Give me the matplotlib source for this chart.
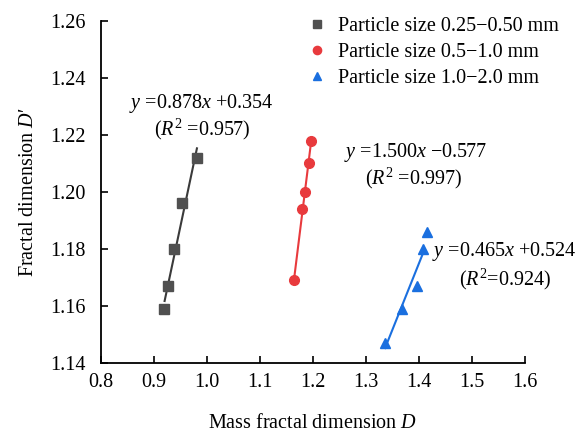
import matplotlib
matplotlib.use('Agg')
import matplotlib.pyplot as plt
import numpy as np

plt.rcParams['font.family'] = ['Liberation Serif', 'DejaVu Serif']
plt.rcParams['mathtext.fontset'] = 'custom'
plt.rcParams['mathtext.rm'] = 'Liberation Serif'
plt.rcParams['mathtext.it'] = 'Liberation Serif:italic'

# mass fractal dimension D vs fractal dimension D'
d_small = [0.919, 0.927, 0.938, 0.952, 0.982]
dp_small = [1.159, 1.167, 1.180, 1.196, 1.212]

d_mid = [1.164, 1.180, 1.185, 1.192, 1.196]
dp_mid = [1.169, 1.194, 1.200, 1.210, 1.218]

d_large = [1.336, 1.368, 1.397, 1.408, 1.416]
dp_large = [1.147, 1.159, 1.167, 1.180, 1.186]

labels = ['Particle size 0.25\u22120.50 mm',
          'Particle size 0.5\u22121.0 mm',
          'Particle size 1.0\u22122.0 mm']

# fitted lines: slope, intercept, x range
fits = [(0.878, 0.354, 0.920, 0.981),
        (1.500, -0.577, 1.1636, 1.196),
        (0.465, 0.524, 1.336, 1.409)]

colors = ['#505050', '#e83a3d', '#1a6fdf']
line_colors = ['#3a3a3a', '#e83a3d', '#1a6fdf']
markers = ['s', 'o', '^']

fs = 14.5

fig = plt.figure(figsize=(5.84, 4.32), dpi=100)
ax = fig.add_axes([101/584, 1 - 363/432, 424/584, 342/432])

xs = [d_small, d_mid, d_large]
ys = [dp_small, dp_mid, dp_large]
for i in range(3):
    ax.plot(xs[i], ys[i], linestyle='none', marker=markers[i], color=colors[i],
            markersize=7, label=labels[i], zorder=3)
    k, b, x0, x1 = fits[i]
    xx = np.array([x0, x1])
    ax.plot(xx, k * xx + b, color=line_colors[i], linewidth=1.5, zorder=2)

ax.set_xlim(0.8, 1.6)
ax.set_ylim(1.14, 1.26)
xt = np.arange(0.8, 1.61, 0.1)
yt = np.arange(1.14, 1.261, 0.02)
ax.set_xticks(xt)
ax.set_yticks(yt)
ax.set_xticklabels(['%.1f' % v for v in xt])
ax.set_yticklabels(['%.2f' % v for v in yt])
ax.tick_params(direction='in', labelsize=fs, length=5, width=1.2)
ax.tick_params(axis='x', pad=7)
ax.tick_params(axis='y', pad=11)
ax.spines['top'].set_visible(False)
ax.spines['right'].set_visible(False)
for s in ['left', 'bottom']:
    ax.spines[s].set_linewidth(1.3)

ax.set_xlabel('Mass fractal dimension $\\mathit{D}$', fontsize=fs, labelpad=16)
ax.set_ylabel("Fractal dimension $\\mathit{D}$\u2032", fontsize=fs, labelpad=9)

ax.text(0.99, 1.2312, '$\\mathit{y}$ =0.878$\\mathit{x}$ +0.354', fontsize=fs, ha='center', va='center')
ax.text(0.99, 1.2221, '($\\mathit{R}^2$ =0.957)', fontsize=fs, ha='center', va='center')
ax.text(1.394, 1.214, '$\\mathit{y}$ =1.500$\\mathit{x}$ \u22120.577', fontsize=fs, ha='center', va='center')
ax.text(1.390, 1.2049, '($\\mathit{R}^2$ =0.997)', fontsize=fs, ha='center', va='center')
ax.text(1.4245, 1.179, '$\\mathit{y}$ =0.465$\\mathit{x}$ +0.524', fontsize=fs, ha='left', va='center')
ax.text(1.4755, 1.1695, '($\\mathit{R}^2$=0.924)', fontsize=fs, ha='left', va='center')

ax.legend(loc='upper left', bbox_to_anchor=((287 - 101) / 424, (363 + 1) / 342),
          frameon=False, fontsize=fs, handlelength=1.2, handletextpad=0.45,
          labelspacing=0.33, markerscale=0.85, borderpad=0.4)

fig.savefig('out.png', dpi=100)
